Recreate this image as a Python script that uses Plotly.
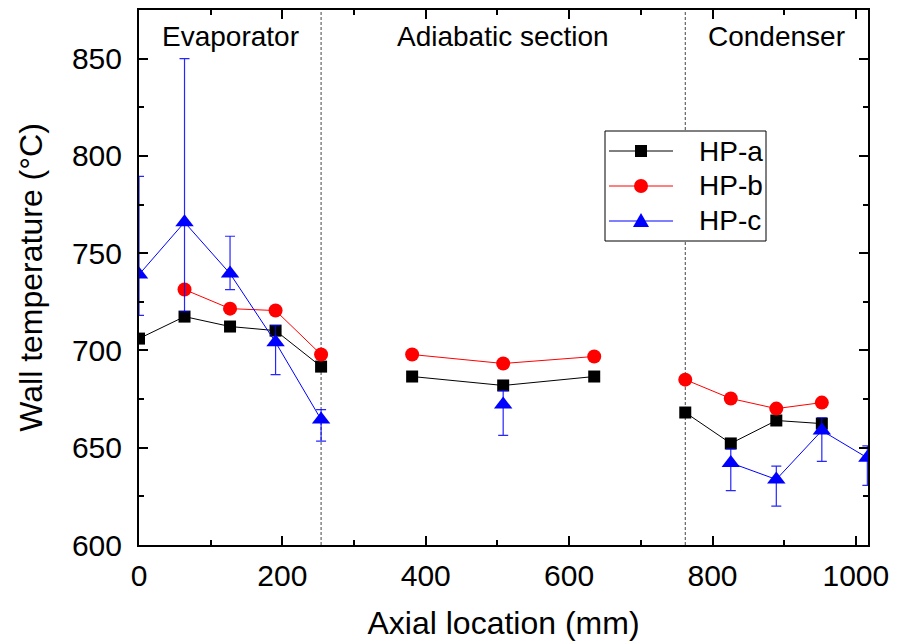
import plotly.graph_objects as go

# Axial thermocouple positions (mm) in each section of the heat pipe
evap_x = [0, 63.5, 127, 190.5, 254]
adia_x = [381, 508, 635]
cond_x = [762, 825.5, 889, 952.5, 1016]

# Wall temperatures (°C); None where a pipe has no reading
hpa_evap = [706.1, 717.4, 712.3, 710.2, 691.7]
hpa_adia = [686.6, 682.0, 686.6]
hpa_cond = [668.1, 652.2, 664.0, 662.4, None]

hpb_evap = [None, 731.3, 721.5, 720.5, 697.9]
hpb_adia = [697.9, 693.3, 696.9]
hpb_cond = [685.0, 675.3, 670.1, 673.2, None]

hpc_evap = [739.0, 765.9, 739.5, 704.2, 664.5]
hpc_adia = [None, 672.2, None]
hpc_cond = [None, 642.2, 633.7, 658.8, 644.8]

# HP-c error bars (upper / lower)
hpc_err_up_evap = [50.5, 84.1, 19.2, 8.6, 5.1]
hpc_err_up_adia = [None, 7.2, None]
hpc_err_up_cond = [None, 7.2, 6.8, 6.6, 6.2]
hpc_err_dn_evap = [21.0, 46.0, 8.2, 16.6, 11.1]
hpc_err_dn_adia = [None, 15.9, None]
hpc_err_dn_cond = [None, 14.2, 13.7, 15.8, 14.2]

series_names = ["HP-a", "HP-b", "HP-c"]
series_colors = ["black", "red", "blue"]
section_names = ["Evaporator", "Adiabatic section", "Condenser"]
section_bounds = [254, 762]
x_range = [0, 1016.9]
y_range = [600, 875]


def join_sections(a, b, c):
    # None separators keep the lines from bridging between sections
    return list(a) + [None] + list(b) + [None] + list(c)


x_all = join_sections(evap_x, adia_x, cond_x)
FONT = "Liberation Sans, Arial, sans-serif"

W, H = 897, 641
ML, MR, MT, MB = 139, 29, 10, 96
PW, PH = W - ML - MR, H - MT - MB


def px(xp):
    return (xp - ML) / PW


def py(yp):
    return (H - MB - yp) / PH


fig = go.Figure()

fig.add_trace(go.Scatter(
    x=x_all, y=join_sections(hpa_evap, hpa_adia, hpa_cond),
    mode="lines+markers", name=series_names[0], connectgaps=False,
    line=dict(color=series_colors[0], width=1),
    marker=dict(symbol="square", size=12, color=series_colors[0]),
    showlegend=False,
))
fig.add_trace(go.Scatter(
    x=x_all, y=join_sections(hpb_evap, hpb_adia, hpb_cond),
    mode="lines+markers", name=series_names[1], connectgaps=False,
    line=dict(color=series_colors[1], width=1),
    marker=dict(symbol="circle", size=14, color=series_colors[1]),
    showlegend=False,
))
fig.add_trace(go.Scatter(
    x=x_all, y=join_sections(hpc_evap, hpc_adia, hpc_cond),
    mode="lines+markers", name=series_names[2], connectgaps=False,
    line=dict(color=series_colors[2], width=1),
    marker=dict(symbol="triangle-up", size=16, color=series_colors[2]),
    error_y=dict(
        type="data", symmetric=False,
        array=join_sections(hpc_err_up_evap, hpc_err_up_adia, hpc_err_up_cond),
        arrayminus=join_sections(hpc_err_dn_evap, hpc_err_dn_adia, hpc_err_dn_cond),
        color="rgba(0,0,255,0.85)", thickness=1.2, width=5,
    ),
    showlegend=False,
))

# Section boundaries
for xb in section_bounds:
    fig.add_shape(type="line", xref="x", yref="paper", x0=xb, x1=xb, y0=0, y1=1,
                  line=dict(color="#444444", width=1, dash="3px,2px"), layer="below")

# Section labels centred over each section
edges = [x_range[0]] + section_bounds + [1016]
for name, lo, hi in zip(section_names, edges[:-1], edges[1:]):
    fig.add_annotation(x=(lo + hi) / 2, y=py(36), xref="x", yref="paper",
                       yanchor="middle", text=name, showarrow=False,
                       font=dict(family=FONT, size=28, color="black"))

# Legend box with line + marker samples
fig.add_shape(type="rect", xref="paper", yref="paper",
              x0=px(605), x1=px(766), y0=py(241), y1=py(131),
              line=dict(color="black", width=1), fillcolor="white", layer="above")
row_y = [151, 186, 221]
for name, color, yrow in zip(series_names, series_colors, row_y):
    yp = py(yrow)
    fig.add_shape(type="line", xref="paper", yref="paper",
                  x0=px(609), x1=px(673), y0=yp, y1=yp,
                  line=dict(color=color, width=1), layer="above")
    common = dict(xref="paper", yref="paper", xsizemode="pixel", ysizemode="pixel",
                  xanchor=px(641), yanchor=yp, fillcolor=color,
                  line=dict(color=color, width=0), layer="above")
    if name == "HP-a":
        fig.add_shape(type="rect", x0=-6, x1=6, y0=-6, y1=6, **common)
    elif name == "HP-b":
        fig.add_shape(type="circle", x0=-7, x1=7, y0=-7, y1=7, **common)
    else:
        fig.add_shape(type="path", path="M -8,-6 L 8,-6 L 0,8 Z", **common)
    fig.add_annotation(x=px(697), y=yp, xref="paper", yref="paper",
                       xanchor="left", yanchor="middle", text=name, showarrow=False,
                       font=dict(family=FONT, size=28, color="black"))

axis_common = dict(
    showline=True, linecolor="black", linewidth=2, mirror="ticks",
    ticks="inside", ticklen=9, tickwidth=1.5, tickcolor="black",
    showgrid=False, zeroline=False, automargin=False,
    tickfont=dict(family=FONT, size=30, color="black"),
)

fig.update_xaxes(
    range=x_range, tickvals=[0, 200, 400, 600, 800, 1000],
    minor=dict(ticks="inside", ticklen=5, tickwidth=1.5, tickcolor="black", dtick=100, tick0=0),
    title=dict(text="Axial location (mm)", font=dict(family=FONT, size=32, color="black"),
               standoff=21),
    ticklabelstandoff=3,
    **axis_common,
)
fig.update_yaxes(
    range=y_range, tickvals=[600, 650, 700, 750, 800, 850],
    minor=dict(ticks="inside", ticklen=5, tickwidth=1.5, tickcolor="black", dtick=25, tick0=600),
    title=dict(text="Wall temperature (°C)", font=dict(family=FONT, size=32, color="black"),
               standoff=20),
    ticklabelstandoff=9,
    **axis_common,
)

fig.update_layout(
    width=W, height=H,
    margin=dict(l=ML, r=MR, t=MT, b=MB),
    plot_bgcolor="white", paper_bgcolor="white",
    font=dict(family=FONT, color="black"),
    showlegend=False,
)

fig.write_html("out.html")
